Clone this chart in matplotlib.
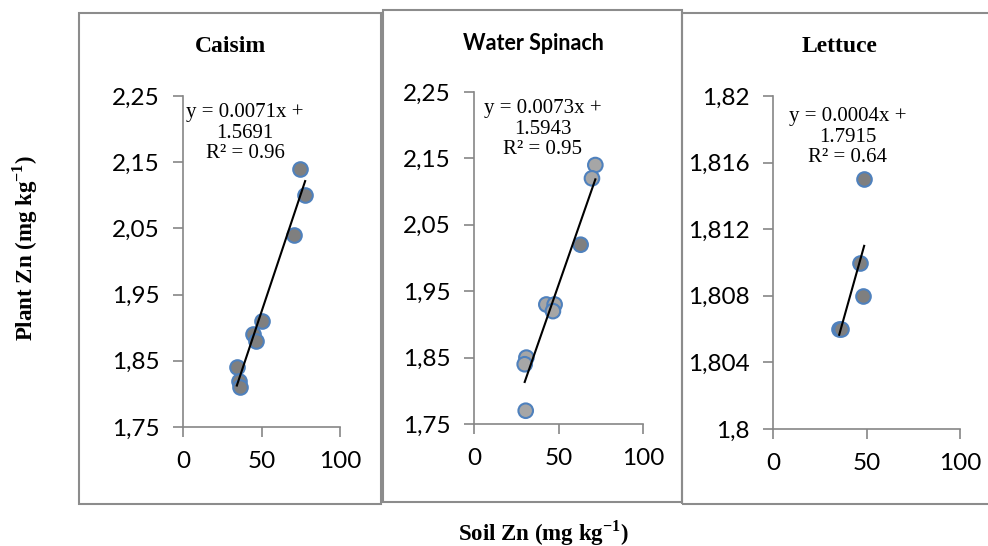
import matplotlib
matplotlib.use("Agg")
import matplotlib.pyplot as plt
from matplotlib.patches import Rectangle
import numpy as np

# data
caisim_x = [74.6, 77.8, 71.0, 50.6, 44.3, 46.4, 34.3, 35.6, 36.4]
caisim_y = [2.14, 2.10, 2.04, 1.91, 1.89, 1.88, 1.84, 1.82, 1.81]
spinach_x = [71.8, 69.8, 63.1, 42.8, 47.7, 46.7, 31.0, 30.0, 30.6]
spinach_y = [2.14, 2.12, 2.02, 1.93, 1.93, 1.92, 1.85, 1.84, 1.77]
lettuce_x = [48.75, 46.4, 48.0, 35.4, 36.2]
lettuce_y = [1.815, 1.810, 1.808, 1.806, 1.806]

titles = ["Caisim", "Water Spinach", "Lettuce"]
slopes = [0.0071, 0.0073, 0.0004]
intercepts = [1.5691, 1.5943, 1.7915]
r2 = ["0.96", "0.95", "0.64"]

x_ticks = [0, 50, 100]
y_ticks = [[1.75, 1.85, 1.95, 2.05, 2.15, 2.25],
           [1.75, 1.85, 1.95, 2.05, 2.15, 2.25],
           [1.8, 1.804, 1.808, 1.812, 1.816, 1.82]]
y_labels = [["1,75", "1,85", "1,95", "2,05", "2,15", "2,25"],
            ["1,75", "1,85", "1,95", "2,05", "2,15", "2,25"],
            ["1,8", "1,804", "1,808", "1,812", "1,816", "1,82"]]

dark = "#7f7f7f"
light = "#a6a6a6"
spinach_colors = [light, light, dark, light, light, light, light, light, light]

W, H = 988, 546
fig = plt.figure(figsize=(W / 100, H / 100), dpi=100)

def fx(px):
    return px / W

def fy(py):
    return 1 - py / H

# panel boxes (pixel coords: left, top, right, bottom)
boxes = [(79, 13, 381, 504), (383, 10, 682, 502), (682, 13, 992, 504)]
for l, t, r, b in boxes:
    fig.patches.append(Rectangle((fx(l), fy(b)), fx(r - l), fy(t) - fy(b),
                                 transform=fig.transFigure, fill=False,
                                 edgecolor="#8c8c8c", linewidth=1.5))

# axes areas (pixel coords: left, top, right, bottom)
areas = [(183, 96, 340, 427), (474, 92, 643, 424), (773, 96, 960, 429)]
xs = [caisim_x, spinach_x, lettuce_x]
ys = [caisim_y, spinach_y, lettuce_y]
colors = [dark, spinach_colors, dark]
title_pos = [(230, 47), (533, 44), (840, 47)]
text_pos = [(0.395, 0.978), (0.408, 0.978), (0.40, 0.966)]

for i in range(3):
    l, t, r, b = areas[i]
    ax = fig.add_axes([fx(l), fy(b), fx(r - l), fy(t) - fy(b)])
    ax.scatter(xs[i], ys[i], s=110, c=colors[i], edgecolors="#4f81bd",
               linewidths=1.5, zorder=3)
    x0, x1 = min(xs[i]), max(xs[i])
    lx = np.array([x0, x1])
    ax.plot(lx, slopes[i] * lx + intercepts[i], color="black", lw=1.5, zorder=4)

    ax.set_xlim(0, 100)
    ax.set_ylim(y_ticks[i][0], y_ticks[i][-1])
    ax.set_xticks(x_ticks)
    ax.set_xticklabels([str(v) for v in x_ticks])
    ax.set_yticks(y_ticks[i])
    ax.set_yticklabels(y_labels[i])
    for s in ["top", "right"]:
        ax.spines[s].set_visible(False)
    for s in ["left", "bottom"]:
        ax.spines[s].set_color("#868686")
        ax.spines[s].set_linewidth(1.2)
    ax.tick_params(direction="out", length=7, width=1.2, color="#868686",
                   labelsize=17.5, pad=10)
    for lab in ax.get_xticklabels() + ax.get_yticklabels():
        lab.set_family(["Lato", "DejaVu Sans"])
    ax.patch.set_alpha(0)

    eq = "y = %.4fx +\n%.4f\nR² = %s" % (slopes[i], intercepts[i], r2[i])
    ax.text(text_pos[i][0], text_pos[i][1], eq, transform=ax.transAxes,
            ha="center", va="top", family="Liberation Serif", fontsize=15,
            linespacing=1.1, zorder=5)

    if i == 1:
        fam = ["Lato", "DejaVu Sans"]
        size = 15.5
    else:
        fam = "Liberation Serif"
        size = 17
    fig.text(fx(title_pos[i][0]), fy(title_pos[i][1]), titles[i], ha="center",
             va="center", family=fam, fontweight="bold", fontsize=size)

fig.text(fx(25), fy(248), "Plant Zn (mg kg$^{\\mathregular{-1}}$)", rotation=90,
         ha="center", va="center", family="Liberation Serif",
         fontweight="bold", fontsize=16.5)
fig.text(fx(543), fy(533), "Soil Zn (mg kg$^{\\mathregular{-1}}$)",
         ha="center", va="center", family="Liberation Serif",
         fontweight="bold", fontsize=16.5)

fig.savefig("out.png", dpi=100)
